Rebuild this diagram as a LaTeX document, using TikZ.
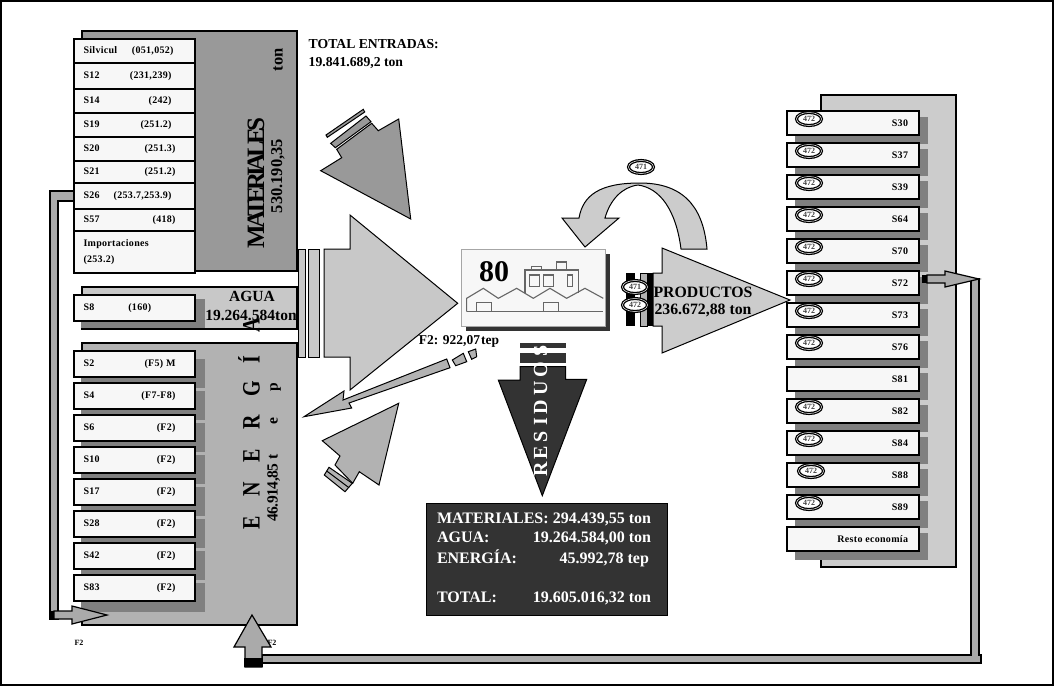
\documentclass[tikz,border=0pt]{standalone}
\usepackage{fontspec}
\usepackage{graphicx}
\setmainfont{Liberation Serif}
\usetikzlibrary{positioning,shapes.geometric}
\definecolor{fgPanelA}{RGB}{153,153,153}
\definecolor{fgPanelB}{RGB}{200,200,200}
\definecolor{fgPanelC}{RGB}{178,178,178}
\definecolor{fgPanelD}{RGB}{204,204,204}
\definecolor{fgShade}{RGB}{128,128,128}
\definecolor{fgBox}{RGB}{247,247,247}
\definecolor{fgDark}{RGB}{51,51,51}
\definecolor{fgPipe}{RGB}{170,170,170}
\newcommand{\fs}[1]{\fontsize{#1}{#1}\selectfont\bfseries}

\begin{document}
\begin{tikzpicture}[
  x=1pt, y=-1pt,
  panel/.style={draw=black, line width=1.2pt, minimum width=215pt, inner sep=0pt},
  sbox/.style={draw=black, line width=1.3pt, fill=fgBox, minimum width=121pt, inner sep=0pt, font=\fs{10}\addfontfeature{LetterSpace=3}},
  rbox/.style={draw=black, line width=1.3pt, fill=fgBox, minimum width=132pt, minimum height=24pt, inner sep=0pt, font=\fs{10}\addfontfeature{LetterSpace=3}},
  badge/.style={ellipse, draw=black, line width=1.3pt, double=white, double distance=.5pt, fill=white, minimum width=25pt, minimum height=13pt, inner sep=0pt, font=\fs{8}, text=black!75},
  flow/.style={draw=black, line width=1pt},
  pipe/.style={draw=black, line width=1.2pt, fill=fgPipe},
  tag/.style={inner sep=0pt, font=\fs{8}}
]
\useasboundingbox (0,0) rectangle (1054,686);
\draw[black, line width=1.2pt] (1,1) rectangle (1053,685);

% pipes behind the panels
\draw[pipe] (58,191) -- (74,191) -- (74,201) -- (58,201) -- (58,619) -- (50,619) -- (50,191) -- cycle;
\draw[pipe] (262,655) -- (971,655) -- (971,279) -- (979,279) -- (979,655) -- (981,655) -- (981,663) -- (262,663) -- cycle;

% materiales
\node[panel, fill=fgPanelA, minimum height=240pt] (materialesPanel) at (189.5,151) {};
\foreach \nm/\ytop/\ybot/\lab/\cod/\pad in {
  mSilv/39/63/Silvicul/{(051,052)}/12, mS12/63/89/S12/{(231,239)}/14, mS14/89/113/S14/{(242)}/14,
  mS19/113/137/S19/{(251.2)}/14, mS20/137/161/S20/{(251.3)}/10, mS21/161/183/S21/{(251.2)}/10,
  mS26/183/209/S26/{(253.7,253.9)}/14, mS57/209/231/S57/{(418)}/10}
  \node[sbox, minimum height={(\ybot-\ytop)*1pt}] (\nm) at (134.5,{(\ytop+\ybot)/2}) {\makebox[102pt]{\lab\hfill\cod\hspace*{\pad pt}}};
\node[sbox, minimum height=42pt, align=left] (mImp) at (134.5,252) {\makebox[102pt][l]{Importaciones}\\[6pt]\makebox[102pt][l]{(253.2)}};
\node[rotate=90, inner sep=0pt, font=\fs{16.5}] (tonLabel) at (278,60) {ton};
\node[rotate=90, inner sep=0pt, font=\fs{25}\addfontfeature{LetterSpace=-16}] (materialesLabel) at (256,183) {MATERIALES};
\node[rotate=90, inner sep=0pt, font=\fs{16.5}] (materialesTon) at (278,176) {530.190,35};

% agua
\node[panel, fill=fgPanelB, minimum height=42pt] (aguaPanel) at (189.5,308) {};
\fill[fgShade] (81,299) rectangle (205,328);
\node[sbox, minimum height=26pt] (aS8) at (134.5,308) {\makebox[102pt]{S8\hspace*{34pt}(160)\hfill}};
\node[inner sep=0pt, font=\fs{15.5}] (aguaLabel) at (252,296) {AGUA};
\node[inner sep=0pt, font=\fs{15.5}] (aguaTon) at (251,315) {19.264.584ton};

% energia
\node[panel, fill=fgPanelC, minimum height=282pt] (energiaPanel) at (189.5,484) {};
\foreach \ytop in {359,391,423,455,487,519,551,583}
  \fill[fgShade] (81,\ytop) rectangle (205,\ytop+29);
\foreach \nm/\ytop/\lab/\cod in {
  eS2/351/S2/{(F5) M}, eS4/383/S4/{(F7-F8)}, eS6/415/S6/{(F2)}, eS10/447/S10/{(F2)},
  eS17/479/S17/{(F2)}, eS28/511/S28/{(F2)}, eS42/543/S42/{(F2)}, eS83/575/S83/{(F2)}}
  \node[sbox, minimum height=26pt] (\nm) at (134.5,\ytop+13) {\makebox[102pt]{\lab\hfill\cod\hspace*{10pt}}};
\node[rotate=90, inner sep=0pt, anchor=west, font=\fs{25}] (energiaLabel) at (249,529.4) {\scalebox{.8}[1]{E\hspace{24.6pt}N\hspace{24.6pt}E\hspace{24.6pt}R\hspace{23.2pt}G\hspace{21pt}Í\hspace{29pt}A}};
\node[rotate=90, inner sep=0pt, anchor=west, font=\fs{15.5}\addfontfeature{LetterSpace=-3}] (energiaTep) at (274,522) {46.914,85\hspace{4pt}t\hspace{30pt}e\hspace{26pt}p};

% flechas de entrada
\draw[flow, fill=fgPanelA] (320.7,170.7) -- (341.7,157.7) -- (336.7,149.3) -- (371.7,123.3) -- (378.3,130.7) -- (398.7,119) -- (410.7,219) -- cycle;
\draw[flow, fill=fgPanelA] (330.7,143.3) -- (366,116) -- (371,121.7) -- (335.3,147.7) -- cycle;
\draw[flow, fill=fgPanelA] (326,135) -- (363.3,109.3) -- (364.7,112) -- (327.3,137.3) -- cycle;

\draw[flow, fill=fgPanelB] (298,249) rectangle (305,357);
\draw[flow, fill=fgPanelB] (308,249) rectangle (319,357);
\draw[flow, fill=fgPanelB] (324,249) -- (350,249) -- (350,215) -- (457.7,303.3) -- (350,390) -- (350,357) -- (324,357) -- cycle;

\draw[flow, fill=fgPanelC] (398.7,403.3) -- (322.3,440.7) -- (340,456) -- (335,465) -- (352.7,483.3) -- (359.3,471.7) -- (379,485) -- cycle;
\draw[flow, fill=fgPanelC] (329,467.3) -- (352.3,483.3) -- (345,491.7) -- (324.3,475) -- cycle;
\draw[flow] (326.7,471) -- (348.7,487.5);

% fabrica
\fill[black!80] (466,254) rectangle (610,331);
\node[draw=black!35, line width=1pt, fill=fgBox, minimum width=144pt, minimum height=77pt, inner sep=0pt] (fabrica) at (533,287.5) {};
\node[inner sep=0pt, font=\fs{30}] (fabricaNum) at (494,272) {80};
\begin{scope}[shift={(290,90)}, x=.3333pt, y=-.3333pt, draw=black!60, line width=1.1pt]
  \draw (530,665) -- (530,625) -- (580,595) -- (625,625) -- (680,595) -- (730,625) -- (780,595) -- (830,625) -- (885,595) -- (940,625);
  \draw (530,665) -- (940,665);
  \draw (560,665) -- (560,638) -- (605,638) -- (605,665);
  \draw (760,665) -- (760,638) -- (805,638) -- (805,665);
  \draw (705,608) -- (705,540) -- (865,540) -- (865,608);
  \draw (725,540) -- (725,530) -- (755,530) -- (755,540);
  \draw (800,540) -- (800,516) -- (830,516) -- (830,540);
  \draw (718,555) rectangle (748,590);
  \draw (760,555) rectangle (790,590);
  \draw (833,555) rectangle (848,590);
\end{scope}
\node[inner sep=0pt, font=\fs{13.5}] (f2Tep) at (459,341) {F2: 922,07\hspace{1pt}tep};

% salida F2
\draw[flow, fill=fgPanelC] (304,416.7) -- (344,391) -- (343,400) -- (446.7,359) -- (450,367.7) -- (349,403) -- (351.7,408) -- cycle;
\draw[flow, fill=fgPanelC] (452.3,360) -- (463.3,353.3) -- (466.7,361.7) -- (455.7,365.7) -- cycle;
\draw[flow, fill=fgPanelC] (468.3,351.7) -- (475.7,349) -- (476.7,356.7) -- (471.7,359.3) -- cycle;

% residuos
\draw[flow, fill=fgDark] (520,366.7) -- (565.7,366.7) -- (565.7,379.3) -- (586.7,379.3) -- (542.3,495.7) -- (498.3,380) -- (520,380) -- cycle;
\fill[fgDark] (520,352.7) rectangle (565.7,363.3);
\fill[fgDark] (520,342.7) rectangle (565.7,348.3);
\node[rotate=90, inner sep=0pt, anchor=west, text=white, font=\fs{20}] (residuosLabel) at (540.7,477) {R\hspace{3pt}E\hspace{4pt}S\hspace{5pt}I\hspace{4pt}D\hspace{4pt}U\hspace{4pt}O\hspace{5pt}S};
\node[draw=black, line width=1pt, fill=fgDark, minimum width=241pt, minimum height=112pt, inner sep=0pt] (residuosBox) at (547,559) {};
\node[text=white, inner sep=0pt, align=left, font=\fs{16}] (residuosText) at (544,559) {%
  \makebox[214pt]{MATERIALES:\hfill 294.439,55 ton}\\[3.6pt]
  \makebox[214pt]{AGUA:\hfill 19.264.584,00 ton}\\[3.6pt]
  \makebox[214pt]{ENERGÍA:\hfill 45.992,78 tep\hspace*{2pt}}\\[23.2pt]
  \makebox[214pt]{TOTAL:\hfill 19.605.016,32 ton}};

% productos
\draw[flow, fill=fgPanelD] (653,273) -- (662,273) -- (662,248) -- (790,300) -- (662,353) -- (662,326) -- (653,326) -- cycle;
\fill[black] (626,273) rectangle (635,326);
\fill[black] (647,273) rectangle (653,326);
\draw[flow, fill=fgPanelC] (640,273) rectangle (647,326);
\node[inner sep=0pt, font=\fs{15.8}] (productosLabel) at (703,292) {PRODUCTOS};
\node[inner sep=0pt, font=\fs{15.8}] (productosTon) at (703,310) {236.672,88 ton};
\node[badge] (bProdA) at (635,287) {471};
\node[badge] (bProdB) at (635,305) {472};

% bucle 471
\draw[flow, fill=fgPanelD] (707,249) .. controls (704,215) and (690,183) .. (640,183) .. controls (600,183) and (583,195) .. (579,218) -- (562,218) -- (585,247) -- (619,218) -- (605,218) .. controls (610,200) and (622,187) .. (638,185) .. controls (660,188) and (676,210) .. (681,249) -- cycle;
\node[badge] (bBucle) at (641,167) {471};

% destino
\node[draw=black, line width=1.2pt, fill=fgPanelD, minimum width=135pt, minimum height=472pt, inner sep=0pt] (destinoPanel) at (888.5,331) {};
\foreach \ytop in {117,149,181,213,245,277,309,341,373,405,437,469,501,533}
  \fill[fgShade] (795,\ytop) rectangle (928,\ytop+27);
\foreach \nm/\ytop/\lab in {
  dS30/111/S30, dS37/143/S37, dS39/175/S39, dS64/207/S64, dS70/239/S70, dS72/271/S72, dS73/303/S73,
  dS76/335/S76, dS81/367/S81, dS82/399/S82, dS84/431/S84, dS88/463/S88, dS89/495/S89, dResto/527/Resto economía}
  \node[rbox] (\nm) at (853,\ytop+12) {\makebox[116pt][r]{\lab\hspace*{3pt}}};
\foreach \nm/\bx/\by in {
  dS30/809/119, dS37/809/151, dS39/809/183, dS64/809/215, dS70/809/247, dS72/809/279, dS73/809/311,
  dS76/809/343, dS82/809/407, dS84/809/439, dS88/811/471, dS89/809/503}
  \node[badge] (b\nm) at (\bx,\by) {472};

% flechas de retorno
\draw[pipe] (927,275) -- (945,275) -- (945,271) -- (979,279) -- (945,287) -- (945,283) -- (927,283) -- cycle;
\fill[black] (922,275) rectangle (927,283);
\draw[pipe] (54,611) -- (72,611) -- (72,606) -- (107,615) -- (72,624) -- (72,619) -- (54,619) -- cycle;
\fill[black] (50,611) rectangle (54,619);
\node[tag] (f2Izq) at (79,643) {F2};
\node[tag] (f2Der) at (272,643) {F2};
\draw[pipe] (245,667) -- (245,647) -- (234,647) -- (252,615) -- (271,647) -- (262,647) -- (262,667) -- cycle;
\fill[black] (244,658) rectangle (263,667);

\node[inner sep=0pt, align=left, anchor=north west, font=\fs{13.7}] (totalEntradas) at (308.5,39) {TOTAL ENTRADAS:\\[5pt]19.841.689,2 ton};
\end{tikzpicture}
\end{document}
